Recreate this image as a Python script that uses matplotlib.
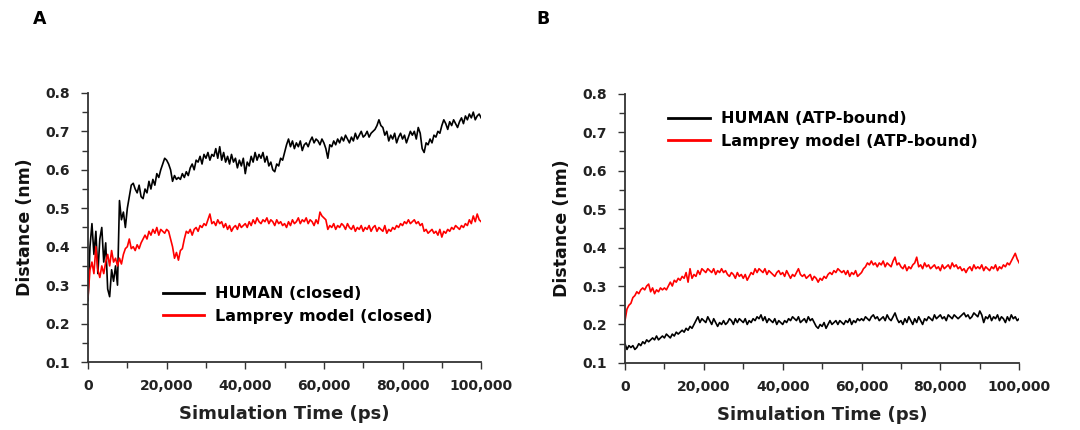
import numpy as np
import matplotlib
matplotlib.use("Agg")
import matplotlib.pyplot as plt
from matplotlib.ticker import MultipleLocator, FuncFormatter

# ---------------- data (500 ps spacing) ----------------
time_ps = np.arange(0, 100001, 500)

human_closed = [
    0.26, 0.40, 0.46, 0.38, 0.44, 0.33, 0.42, 0.45, 0.36, 0.41,
    0.29, 0.27, 0.34, 0.31, 0.35, 0.30, 0.52, 0.47, 0.49, 0.45,
    0.50, 0.53, 0.56, 0.565, 0.55, 0.54, 0.56, 0.53, 0.525, 0.55,
    0.54, 0.57, 0.55, 0.575, 0.56, 0.59, 0.58, 0.60, 0.615, 0.63,
    0.625, 0.615, 0.60, 0.57, 0.585, 0.575, 0.58, 0.575, 0.59, 0.58,
    0.595, 0.585, 0.605, 0.615, 0.60, 0.625, 0.62, 0.635, 0.615, 0.64,
    0.63, 0.645, 0.625, 0.64, 0.635, 0.655, 0.63, 0.66, 0.625, 0.645,
    0.62, 0.635, 0.615, 0.64, 0.62, 0.63, 0.605, 0.625, 0.61, 0.63,
    0.59, 0.62, 0.61, 0.635, 0.62, 0.645, 0.625, 0.64, 0.63, 0.645,
    0.62, 0.635, 0.61, 0.62, 0.60, 0.595, 0.615, 0.61, 0.63, 0.625,
    0.645, 0.665, 0.68, 0.66, 0.675, 0.655, 0.67, 0.66, 0.675, 0.65,
    0.665, 0.67, 0.66, 0.675, 0.685, 0.67, 0.68, 0.675, 0.665, 0.68,
    0.67, 0.655, 0.63, 0.665, 0.66, 0.675, 0.665, 0.68, 0.67, 0.685,
    0.675, 0.69, 0.68, 0.67, 0.685, 0.675, 0.695, 0.68, 0.69, 0.70,
    0.685, 0.69, 0.70, 0.685, 0.695, 0.70, 0.705, 0.715, 0.73, 0.715,
    0.71, 0.69, 0.70, 0.675, 0.69, 0.68, 0.695, 0.67, 0.685, 0.695,
    0.68, 0.69, 0.67, 0.685, 0.70, 0.69, 0.70, 0.68, 0.71, 0.695,
    0.655, 0.645, 0.67, 0.665, 0.68, 0.67, 0.69, 0.685, 0.70, 0.695,
    0.715, 0.73, 0.72, 0.705, 0.725, 0.715, 0.73, 0.72, 0.71, 0.725,
    0.735, 0.72, 0.74, 0.73, 0.745, 0.735, 0.75, 0.73, 0.74, 0.745,
    0.735,
]

lamprey_closed = [
    0.27, 0.34, 0.36, 0.33, 0.40, 0.34, 0.32, 0.35, 0.33, 0.36,
    0.38, 0.35, 0.39, 0.36, 0.37, 0.35, 0.37, 0.355, 0.38, 0.395,
    0.40, 0.42, 0.395, 0.40, 0.39, 0.405, 0.395, 0.41, 0.42, 0.43,
    0.42, 0.44, 0.43, 0.445, 0.435, 0.45, 0.43, 0.445, 0.44, 0.435,
    0.445, 0.44, 0.42, 0.40, 0.37, 0.385, 0.365, 0.39, 0.395, 0.42,
    0.44, 0.435, 0.445, 0.43, 0.445, 0.45, 0.44, 0.455, 0.45, 0.46,
    0.455, 0.47, 0.485, 0.46, 0.465, 0.455, 0.47, 0.46, 0.465, 0.45,
    0.46, 0.445, 0.455, 0.44, 0.45, 0.455, 0.445, 0.46, 0.45, 0.455,
    0.46, 0.45, 0.465, 0.455, 0.47, 0.46, 0.475, 0.465, 0.46, 0.47,
    0.465, 0.475, 0.46, 0.47, 0.465, 0.455, 0.47, 0.46, 0.465, 0.455,
    0.46, 0.45, 0.465, 0.455, 0.47, 0.46, 0.465, 0.475, 0.46, 0.47,
    0.465, 0.475, 0.46, 0.47, 0.465, 0.455, 0.47, 0.46, 0.49, 0.48,
    0.475, 0.47, 0.445, 0.455, 0.45, 0.46, 0.445, 0.455, 0.45, 0.46,
    0.455, 0.445, 0.46, 0.45, 0.445, 0.455, 0.44, 0.45, 0.445, 0.455,
    0.44, 0.45, 0.445, 0.455, 0.44, 0.45, 0.455, 0.44, 0.45, 0.445,
    0.44, 0.455, 0.435, 0.445, 0.44, 0.45, 0.445, 0.455, 0.45, 0.46,
    0.455, 0.465, 0.46, 0.47, 0.46, 0.465, 0.47, 0.46, 0.465, 0.455,
    0.46, 0.44, 0.445, 0.435, 0.44, 0.445, 0.435, 0.44, 0.43, 0.445,
    0.425, 0.44, 0.435, 0.445, 0.44, 0.45, 0.445, 0.455, 0.45, 0.445,
    0.455, 0.45, 0.46, 0.455, 0.47, 0.46, 0.48, 0.465, 0.485, 0.47,
    0.465,
]

human_atp = [
    0.15, 0.135, 0.145, 0.14, 0.145, 0.135, 0.14, 0.15, 0.145, 0.155,
    0.15, 0.16, 0.155, 0.16, 0.165, 0.16, 0.17, 0.16, 0.165, 0.17,
    0.165, 0.175, 0.17, 0.165, 0.175, 0.17, 0.18, 0.175, 0.18, 0.185,
    0.18, 0.19, 0.185, 0.195, 0.19, 0.20, 0.21, 0.22, 0.205, 0.215,
    0.21, 0.205, 0.22, 0.21, 0.20, 0.215, 0.205, 0.195, 0.205, 0.20,
    0.21, 0.20, 0.205, 0.215, 0.21, 0.20, 0.215, 0.205, 0.215, 0.21,
    0.205, 0.215, 0.20, 0.21, 0.205, 0.215, 0.21, 0.22, 0.215, 0.225,
    0.21, 0.22, 0.205, 0.215, 0.21, 0.205, 0.215, 0.20, 0.21, 0.205,
    0.20, 0.21, 0.205, 0.215, 0.21, 0.22, 0.215, 0.21, 0.22, 0.205,
    0.21, 0.215, 0.205, 0.22, 0.21, 0.215, 0.205, 0.195, 0.19, 0.20,
    0.195, 0.205, 0.19, 0.20, 0.21, 0.20, 0.205, 0.21, 0.20, 0.21,
    0.205, 0.20, 0.21, 0.205, 0.215, 0.20, 0.21, 0.205, 0.215, 0.21,
    0.215, 0.21, 0.22, 0.215, 0.21, 0.22, 0.225, 0.215, 0.22, 0.21,
    0.215, 0.22, 0.21, 0.225, 0.215, 0.21, 0.22, 0.23, 0.215, 0.205,
    0.21, 0.20, 0.215, 0.205, 0.22, 0.21, 0.20, 0.215, 0.205, 0.22,
    0.21, 0.20, 0.215, 0.21, 0.22, 0.215, 0.21, 0.225, 0.215, 0.22,
    0.225, 0.215, 0.22, 0.21, 0.225, 0.22, 0.215, 0.225, 0.22, 0.215,
    0.22, 0.225, 0.23, 0.22, 0.225, 0.215, 0.22, 0.23, 0.225, 0.22,
    0.235, 0.225, 0.205, 0.22, 0.215, 0.225, 0.21, 0.22, 0.215, 0.225,
    0.21, 0.22, 0.215, 0.205, 0.22, 0.21, 0.225, 0.215, 0.22, 0.21,
    0.215,
]

lamprey_atp = [
    0.21, 0.24, 0.25, 0.255, 0.27, 0.275, 0.285, 0.28, 0.29, 0.295,
    0.29, 0.30, 0.305, 0.285, 0.295, 0.28, 0.29, 0.285, 0.295, 0.29,
    0.295, 0.29, 0.30, 0.31, 0.30, 0.315, 0.31, 0.32, 0.315, 0.325,
    0.32, 0.335, 0.31, 0.345, 0.32, 0.33, 0.325, 0.34, 0.33, 0.345,
    0.34, 0.335, 0.345, 0.34, 0.335, 0.345, 0.33, 0.34, 0.335, 0.345,
    0.335, 0.34, 0.33, 0.325, 0.335, 0.33, 0.32, 0.335, 0.325, 0.33,
    0.32, 0.33, 0.315, 0.325, 0.335, 0.33, 0.345, 0.335, 0.345, 0.34,
    0.335, 0.345, 0.33, 0.34, 0.335, 0.33, 0.325, 0.335, 0.34, 0.33,
    0.335, 0.325, 0.34, 0.33, 0.32, 0.33, 0.325, 0.335, 0.345, 0.33,
    0.325, 0.33, 0.32, 0.325, 0.33, 0.315, 0.325, 0.32, 0.31, 0.32,
    0.315, 0.325, 0.32, 0.33, 0.335, 0.33, 0.34, 0.335, 0.345, 0.34,
    0.335, 0.34, 0.33, 0.34, 0.325, 0.335, 0.33, 0.34, 0.325, 0.33,
    0.335, 0.345, 0.35, 0.36, 0.355, 0.365, 0.355, 0.36, 0.35, 0.36,
    0.355, 0.365, 0.35, 0.36, 0.355, 0.35, 0.365, 0.375, 0.355, 0.36,
    0.35, 0.345, 0.355, 0.34, 0.35, 0.345, 0.355, 0.36, 0.375, 0.35,
    0.355, 0.345, 0.36, 0.35, 0.355, 0.345, 0.35, 0.355, 0.345, 0.35,
    0.34, 0.355, 0.345, 0.35, 0.355, 0.345, 0.36, 0.35, 0.355, 0.345,
    0.35, 0.34, 0.345, 0.335, 0.345, 0.35, 0.34, 0.355, 0.345, 0.35,
    0.345, 0.355, 0.34, 0.35, 0.345, 0.34, 0.35, 0.345, 0.355, 0.34,
    0.35, 0.345, 0.355, 0.35, 0.36, 0.355, 0.365, 0.375, 0.385, 0.37,
    0.36,
]

panel_labels = ["A", "B"]
legend_labels_a = ["HUMAN (closed)", "Lamprey model (closed)"]
legend_labels_b = ["HUMAN (ATP-bound)", "Lamprey model (ATP-bound)"]
x_ticks = [0, 20000, 40000, 60000, 80000, 100000]
y_ticks = [0.1, 0.2, 0.3, 0.4, 0.5, 0.6, 0.7, 0.8]

# ---------------- figure ----------------
plt.rcParams['font.family'] = ['DejaVu Sans']
fig = plt.figure(figsize=(10.8, 4.3), dpi=100)
axA = fig.add_axes([0.0815, 0.158, 0.364, 0.626])
axB = fig.add_axes([0.5787, 0.156, 0.365, 0.626])

spine_col = '#333333'

def style(ax):
    for s in ['top', 'right']:
        ax.spines[s].set_visible(False)
    for s in ['left', 'bottom']:
        ax.spines[s].set_color(spine_col)
        ax.spines[s].set_linewidth(1.3)
    ax.set_xlim(0, 100000)
    ax.set_ylim(0.1, 0.8)
    ax.set_xticks(x_ticks)
    ax.set_yticks(y_ticks)
    ax.xaxis.set_minor_locator(MultipleLocator(10000))
    ax.yaxis.set_minor_locator(MultipleLocator(0.05))
    ax.xaxis.set_major_formatter(FuncFormatter(lambda v, p: f"{int(v):,}"))
    ax.yaxis.set_major_formatter(FuncFormatter(lambda v, p: f"{v:.1f}"))
    ax.tick_params(which='both', direction='out', color=spine_col, width=1.0)
    ax.tick_params(which='major', length=5)
    ax.tick_params(which='minor', length=4)
    ax.tick_params(axis='y', which='major', pad=8)
    ax.tick_params(axis='x', which='major', pad=7)
    for lab in ax.get_xticklabels() + ax.get_yticklabels():
        lab.set_fontweight('bold')
        lab.set_fontsize(10)
        lab.set_color('#222222')
    ax.set_xlabel("Simulation Time (ps)", fontsize=13, fontweight='bold',
                  labelpad=9, color='#222222')
    ax.set_ylabel("Distance (nm)", fontsize=12.5, fontweight='bold',
                  labelpad=8, color='#111111')

# Panel A
lhA, = axA.plot(time_ps, human_closed, color='black', lw=1.2)
llA, = axA.plot(time_ps, lamprey_closed, color='#ff0000', lw=1.2)
style(axA)
legA = axA.legend([lhA, llA], legend_labels_a, loc='upper left',
                  bbox_to_anchor=(0.19, 0.281), frameon=False,
                  handlelength=2.6, handletextpad=0.7, labelspacing=0.475,
                  borderpad=0, borderaxespad=0,
                  prop={'weight': 'bold', 'size': 11.5})
for l in legA.get_lines():
    l.set_linewidth(2.0)

# Panel B
lhB, = axB.plot(time_ps, human_atp, color='black', lw=1.2)
llB, = axB.plot(time_ps, lamprey_atp, color='#ff0000', lw=1.2)
style(axB)
legB = axB.legend([lhB, llB], legend_labels_b, loc='upper left',
                  bbox_to_anchor=(0.11, 0.935), frameon=False,
                  handlelength=2.6, handletextpad=0.7, labelspacing=0.475,
                  borderpad=0, borderaxespad=0,
                  prop={'weight': 'bold', 'size': 11.5})
for l in legB.get_lines():
    l.set_linewidth(2.0)

fig.text(40 / 1080, 1 - 19 / 430, panel_labels[0], fontsize=12.5, fontweight='bold',
         ha='center', va='center')
fig.text(543 / 1080, 1 - 19 / 430, panel_labels[1], fontsize=12.5, fontweight='bold',
         ha='center', va='center')

fig.savefig("out.png", dpi=100)
